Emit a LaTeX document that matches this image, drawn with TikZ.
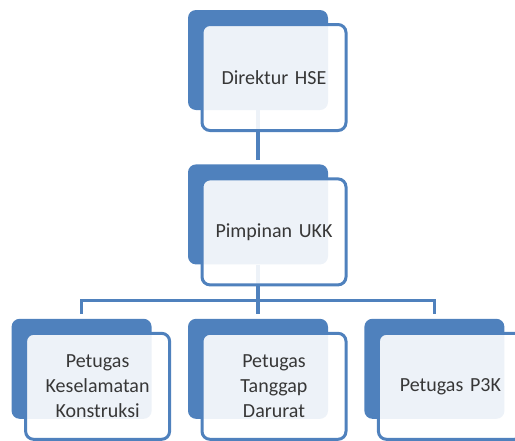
\documentclass[tikz,border=0pt]{standalone}
\usepackage{fontspec}
\setmainfont{Carlito}
\usetikzlibrary{positioning,backgrounds}
\definecolor{hseblue}{RGB}{79,129,189}
\definecolor{hsetext}{RGB}{55,55,55}
\tikzstyle{backbox} = [rectangle, rounded corners=8pt, fill=hseblue, minimum width=140pt, minimum height=100pt]
\tikzstyle{frontbox} = [rectangle, rounded corners=8pt, draw=hseblue, line width=3pt, fill=white, fill opacity=0.9, text opacity=1, minimum width=144pt, minimum height=106pt, text width=130pt, align=center, text=hsetext, font=\fontsize{20}{25}\selectfont, xshift=16pt, yshift=-17.5pt]
\tikzstyle{conn} = [draw=hseblue, line width=3.5pt]

\begin{document}
\begin{tikzpicture}
    \useasboundingbox (0,0) rectangle (515pt,-440pt);

    \node (direkturB) [backbox] at (258pt,-60pt) {};
    \node (pimpinanB) [backbox, below=54pt of direkturB] {};
    \node (tanggapB) [backbox, below=54pt of pimpinanB] {};
    \node (konstruksiB) [backbox, left=36pt of tanggapB] {};
    \node (p3kB) [backbox, right=36pt of tanggapB] {};

    \coordinate[below=36pt of pimpinanB] (bar);

    \begin{scope}[on background layer]
    \draw [conn, shorten >=4pt] (direkturB) -- (pimpinanB);
    \draw [conn, shorten >=5pt] (pimpinanB) -- (tanggapB);
    \draw [conn, shorten >=5pt] (bar) -| (konstruksiB);
    \draw [conn, shorten >=5pt] (bar) -| (p3kB);
    \end{scope}

    \node (direktur) [frontbox] at (direkturB) {Direktur HSE};
    \node (pimpinan) [frontbox] at (pimpinanB) {Pimpinan UKK};
    \node (konstruksi) [frontbox] at (konstruksiB) {Petugas\\Keselamatan\\Konstruksi};
    \node (tanggap) [frontbox] at (tanggapB) {Petugas\\Tanggap\\Darurat};
    \node (p3k) [frontbox] at (p3kB) {Petugas P3K};
\end{tikzpicture}
\end{document}
